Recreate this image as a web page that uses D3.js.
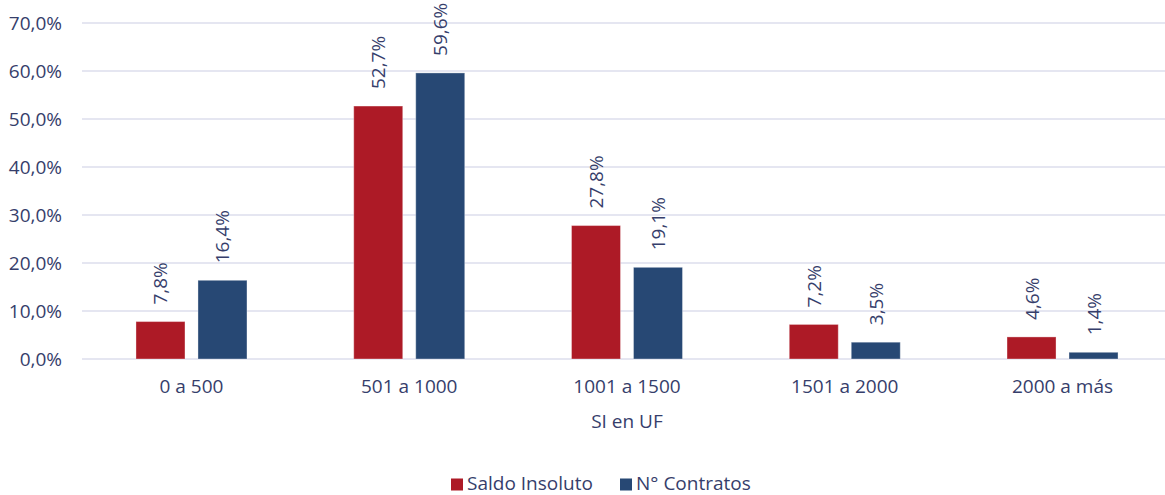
<!DOCTYPE html>
<html>
<head>
<meta charset="utf-8">
<script src="https://cdn.jsdelivr.net/npm/d3@7"></script>
<style>
  html, body { margin: 0; padding: 0; background: #fff; }
  svg text { font-family: "Open Sans", "Noto Sans", sans-serif; fill: #363e6b; }
</style>
</head>
<body>
<svg id="chart" width="1165" height="495"></svg>
<script>
// Distribution by outstanding balance range (SI en UF)
const categories = ["0 a 500", "501 a 1000", "1001 a 1500", "1501 a 2000", "2000 a más"];
const saldoInsoluto = [7.8, 52.7, 27.8, 7.2, 4.6];
const nContratos = [16.4, 59.6, 19.1, 3.5, 1.4];
const seriesNames = ["Saldo Insoluto", "N° Contratos"];
const seriesColors = ["#ad1a26", "#274874"];
const yTicks = [0, 10, 20, 30, 40, 50, 60, 70];

const svg = d3.select("#chart");
const W = 1165, H = 495;
const plot = { left: 82.6, right: 1171.4, top: 23, bottom: 359 };
const FS = 19;

const x = d3.scaleBand().domain(categories).range([plot.left, plot.right]);
const y = d3.scaleLinear().domain([0, 70]).range([plot.bottom, plot.top]);

const fmt = v => d3.format(".1f")(v).replace(".", ",") + "%";

// Gridlines
svg.append("g")
  .selectAll("line")
  .data(yTicks)
  .join("line")
  .attr("x1", 82)
  .attr("x2", W)
  .attr("y1", d => y(d))
  .attr("y2", d => y(d))
  .attr("stroke", "#dcdeec")
  .attr("stroke-width", 1.5);

// Y axis labels
const yAxis = d3.axisLeft(y).tickValues(yTicks).tickFormat(fmt).tickSize(0).tickPadding(0);
const gy = svg.append("g").attr("transform", "translate(62,0)").call(yAxis);
gy.select(".domain").remove();
gy.selectAll("text").attr("font-size", FS).attr("dy", "0.35em")
  .style("font-family", "'Open Sans', sans-serif").attr("fill", "#363e6b");

// X axis labels
const xAxis = d3.axisBottom(x).tickSize(0).tickPadding(0);
const gx = svg.append("g").attr("transform", `translate(0,${y(0) + 27})`).call(xAxis);
gx.select(".domain").remove();
gx.selectAll("text").attr("font-size", FS).attr("dy", "0.35em")
  .style("font-family", "'Open Sans', sans-serif").attr("fill", "#363e6b");

// Axis title
svg.append("text")
  .attr("x", x("1001 a 1500") + x.bandwidth() / 2)
  .attr("y", 421)
  .attr("text-anchor", "middle")
  .attr("dy", "0.35em")
  .attr("font-size", FS)
  .text("SI en UF");

// Bars with rotated value labels
const barW = 49, gap = 13;
const series = [saldoInsoluto, nContratos];
series.forEach((vals, si) => {
  const g = svg.append("g");
  const offset = si === 0 ? -gap / 2 - barW : gap / 2;
  const xc = c => x(c) + x.bandwidth() / 2 + offset;
  const rows = categories.map((c, i) => ({ c, v: vals[i] }));
  g.selectAll("rect")
    .data(rows)
    .join("rect")
    .attr("x", d => xc(d.c))
    .attr("y", d => y(d.v))
    .attr("width", barW)
    .attr("height", d => y(0) - y(d.v))
    .attr("fill", seriesColors[si])
    .attr("stroke", "rgba(255,255,255,0.35)")
    .attr("stroke-width", 1);
  g.selectAll("text")
    .data(rows)
    .join("text")
    .attr("transform", d => `translate(${xc(d.c) + barW / 2 + 7},${y(d.v) - 17}) rotate(-90)`)
    .attr("text-anchor", "start")
    .attr("font-size", FS)
    .text(d => fmt(d.v));
});

// Legend
const legend = svg.append("g").attr("transform", "translate(451,483.5)");
const items = [
  { name: seriesNames[0], color: seriesColors[0], x: 0 },
  { name: seriesNames[1], color: seriesColors[1], x: 169 }
];
items.forEach(it => {
  legend.append("rect").attr("x", it.x).attr("y", -5).attr("width", 12).attr("height", 12).attr("fill", it.color);
  legend.append("text").attr("x", it.x + 16).attr("y", 0).attr("dy", "0.35em")
    .attr("font-size", FS).text(it.name);
});
</script>
</body>
</html>
